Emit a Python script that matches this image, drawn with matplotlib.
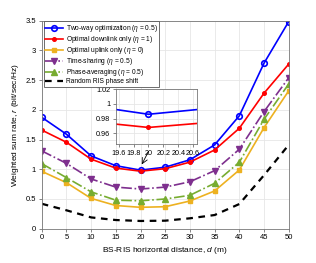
import matplotlib.pyplot as plt
import numpy as np

plt.rcParams['font.family'] = ['Liberation Sans', 'DejaVu Sans']
plt.rcParams['mathtext.fontset'] = 'custom'
plt.rcParams['mathtext.it'] = 'Liberation Sans:italic'
plt.rcParams['mathtext.rm'] = 'Liberation Sans'

# BS-RIS horizontal distance (m)
d = [0, 5, 10, 15, 20, 25, 30, 35, 40, 45, 50]

# weighted sum rate for each scheme (bit/sec/Hz)
two_way = [1.875, 1.59, 1.225, 1.06, 0.986, 1.035, 1.16, 1.41, 1.90, 2.785, 3.485]
downlink = [1.66, 1.455, 1.17, 1.02, 0.968, 1.01, 1.12, 1.325, 1.69, 2.28, 2.77]
uplink = [0.966, 0.775, 0.51, 0.39, 0.36, 0.37, 0.466, 0.635, 0.988, 1.70, 2.32]
time_sharing = [1.31, 1.10, 0.837, 0.70, 0.668, 0.70, 0.79, 0.977, 1.337, 1.97, 2.54]
phase_avg = [1.095, 0.86, 0.62, 0.48, 0.47, 0.50, 0.562, 0.764, 1.118, 1.84, 2.435]
random_ris = [0.42, 0.31, 0.19, 0.146, 0.13, 0.135, 0.175, 0.23, 0.415, 0.90, 1.41]

blue = '#0000ff'
red = '#ff0000'
yellow = '#EDB120'
purple = '#7E2F8E'
green = '#77AC30'

fig = plt.figure(figsize=(3.16, 2.63), dpi=100)
ax_pos = [0.132, 0.1304, 0.7816, 0.7908]
ax = fig.add_axes(ax_pos)

ax.plot(d, two_way, '-', marker='o', color=blue, lw=1.2, ms=4, mfc='none', mew=1.2,
        label=r'Two-way optimization ($\eta$ = 0.5)')
ax.plot(d, downlink, '-', marker='o', color=red, lw=1.2, ms=2.6, mfc=red,
        label=r'Optimal downlink only ($\eta$ = 1)')
ax.plot(d, uplink, '-', marker='s', color=yellow, lw=1.2, ms=2.4,
        label=r'Optimal uplink only ($\eta$ = 0)')
ax.plot(d, time_sharing, '-.', marker='v', color=purple, lw=1.2, ms=4,
        label=r'Time-sharing ($\eta$ = 0.5)')
ax.plot(d, phase_avg, '-.', marker='^', color=green, lw=1.2, ms=4,
        label=r'Phase-averaging ($\eta$ = 0.5)')
ax.plot(d, random_ris, '--', color='black', lw=1.6, dashes=(3, 2.5),
        label='Random RIS phase shift')

ax.set_xlim(0, 50)
ax.set_ylim(0, 3.5)
ax.set_xticks(np.arange(0, 51, 5))
ax.set_yticks(np.arange(0, 3.6, 0.5))
ax.set_yticklabels(['0', '0.5', '1', '1.5', '2', '2.5', '3', '3.5'])
ax.grid(True, color='#e6e6e6', lw=0.6)
ax.tick_params(labelsize=5.5, length=2, width=0.5, color='#555555', pad=2)
for s in ax.spines.values():
    s.set_color('#777777')
    s.set_linewidth(0.6)
ax.set_xlabel(r'BS-RIS horizontal distance, $d$ (m)', fontsize=6, labelpad=3)
ax.set_ylabel(r'Weighted sum rate, $r$ (bit/sec/Hz)', fontsize=6, labelpad=3)

ax.annotate('', xy=(20, 1.04), xytext=(21.8, 1.33),
            arrowprops=dict(arrowstyle='->', color='black', lw=0.6))

# zoomed inset around d = 20
ins = fig.add_axes([0.366, 0.4513, 0.256, 0.209])
ins.plot(d, two_way, '-', marker='o', color=blue, lw=1.2, ms=4, mfc='none', mew=1.2)
ins.plot(d, downlink, '-', marker='o', color=red, lw=1.2, ms=2.6, mfc=red)
ins.set_xlim(19.56, 20.645)
ins.set_ylim(0.945, 1.02)
ins.set_xticks([19.6, 19.8, 20.0, 20.2, 20.4, 20.6])
ins.set_xticklabels(['19.6', '19.8', '20', '20.2', '20.4', '20.6'])
ins.set_yticks([0.96, 0.98, 1.0, 1.02])
ins.set_yticklabels(['0.96', '0.98', '1', '1.02'])
ins.grid(True, color='#e6e6e6', lw=0.6)
ins.tick_params(labelsize=5.2, length=2, width=0.5, color='#555555', pad=2)
for s in ins.spines.values():
    s.set_color('#777777')
    s.set_linewidth(0.6)

# legend on the figure so it sits above the inset
handles, labels = ax.get_legend_handles_labels()
leg = fig.legend(handles, labels, loc='upper left',
                 bbox_to_anchor=(ax_pos[0] + 0.006, ax_pos[1] + ax_pos[3] - 0.002),
                 fontsize=4.75, frameon=True, fancybox=False, framealpha=1,
                 borderaxespad=0, handlelength=2.7, handleheight=0.5,
                 labelspacing=0.02, handletextpad=0.4, borderpad=0.22)
leg.get_frame().set_edgecolor('#555555')
leg.get_frame().set_linewidth(0.6)

fig.savefig('out.png', dpi=100)
